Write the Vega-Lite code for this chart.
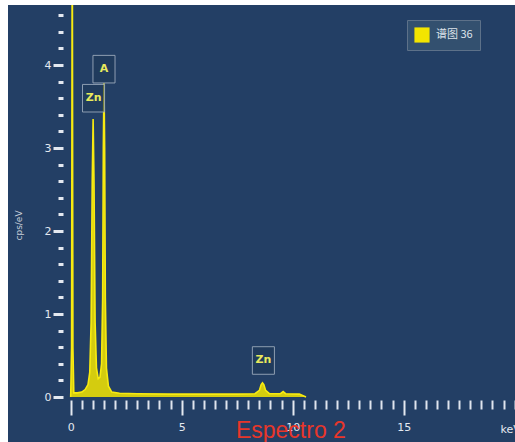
{
  "$schema": "https://vega.github.io/schema/vega-lite/v6.json",
  "width": 507,
  "height": 437,
  "autosize": "none",
  "padding": {"left": 8, "top": 5, "right": 0, "bottom": 0},
  "background": "#ffffff",
  "config": {
    "view": {"fill": "#233f65", "stroke": null},
    "axis": {"grid": false, "labelFont": "DejaVu Sans", "titleFont": "DejaVu Sans"}
  },
  "datasets": {
    "spectrum": [
      {"e": 0.0, "c": 0.0},
      {"e": 0.04, "c": 0.6},
      {"e": 0.07, "c": 6.0},
      {"e": 0.1, "c": 0.6},
      {"e": 0.14, "c": 0.05},
      {"e": 0.3, "c": 0.05},
      {"e": 0.5, "c": 0.06},
      {"e": 0.65, "c": 0.09},
      {"e": 0.78, "c": 0.15},
      {"e": 0.86, "c": 0.3},
      {"e": 0.92, "c": 0.9},
      {"e": 0.97, "c": 2.6},
      {"e": 1.01, "c": 3.35},
      {"e": 1.05, "c": 2.6},
      {"e": 1.1, "c": 0.9},
      {"e": 1.16, "c": 0.35},
      {"e": 1.24, "c": 0.22},
      {"e": 1.32, "c": 0.24},
      {"e": 1.39, "c": 0.4},
      {"e": 1.44, "c": 1.2},
      {"e": 1.47, "c": 3.0},
      {"e": 1.5, "c": 3.78},
      {"e": 1.53, "c": 3.0},
      {"e": 1.56, "c": 1.2},
      {"e": 1.61, "c": 0.35},
      {"e": 1.7, "c": 0.13},
      {"e": 1.85, "c": 0.06},
      {"e": 2.2, "c": 0.045},
      {"e": 3.0, "c": 0.04},
      {"e": 4.5, "c": 0.035},
      {"e": 6.0, "c": 0.035},
      {"e": 7.5, "c": 0.035},
      {"e": 8.3, "c": 0.04},
      {"e": 8.5, "c": 0.08},
      {"e": 8.58, "c": 0.15},
      {"e": 8.64, "c": 0.17},
      {"e": 8.7, "c": 0.15},
      {"e": 8.78, "c": 0.08},
      {"e": 8.95, "c": 0.04},
      {"e": 9.45, "c": 0.04},
      {"e": 9.57, "c": 0.065},
      {"e": 9.68, "c": 0.04},
      {"e": 10.3, "c": 0.035},
      {"e": 10.6, "c": 0.0}
    ],
    "labels": [
      {"e": 1.5, "c": 3.95, "t": "A"},
      {"e": 1.03, "c": 3.6, "t": "Zn"},
      {"e": 8.68, "c": 0.44, "t": "Zn"}
    ]
  },
  "resolve": {"axis": {"x": "independent", "y": "independent"}},
  "layer": [
    {
      "data": {"name": "spectrum"},
      "mark": {"type": "area", "clip": true, "opacity": 0.85},
      "encoding": {
        "x": {
          "field": "e", "type": "quantitative",
          "scale": {"domain": [-2.824, 20.014], "nice": false, "zero": false},
          "axis": {
            "orient": "bottom", "offset": -42, "domain": false,
            "values": [0, 5, 10, 15],
            "tickSize": 15, "tickWidth": 2, "tickColor": "#e4e9f0",
            "labelColor": "#e4e9f0", "labelFontSize": 11, "labelPadding": 6,
            "labelFlush": false,
            "title": "keV", "titleColor": "#e4e9f0", "titleFontSize": 11, "titleFontWeight": "normal",
            "titleX": 492, "titleY": 29, "titleAlign": "left", "titleBaseline": "middle", "titleAnchor": "start"
          }
        },
        "y": {
          "field": "c", "type": "quantitative",
          "scale": {"domain": [-0.542, 4.723], "nice": false, "zero": false},
          "axis": {
            "orient": "left", "offset": -55, "domain": false,
            "values": [0, 1, 2, 3, 4],
            "tickSize": 10, "tickWidth": 3, "tickColor": "#e4e9f0",
            "labelColor": "#e4e9f0", "labelFontSize": 11, "labelPadding": 2,
            "labelFlush": false,
            "title": "cps/eV", "titleColor": "#c9d0da", "titleFontSize": 9, "titleFontWeight": "normal",
            "titleX": -45, "titleY": 220, "titleAngle": -90, "titleAlign": "center", "titleBaseline": "middle", "titleAnchor": "middle"
          }
        },
        "color": {
          "datum": "谱图 36",
          "type": "nominal",
          "scale": {"range": ["#f3e500"]},
          "legend": {
            "orient": "none", "legendX": 399, "legendY": 15,
            "title": null, "fillColor": "#33506f", "strokeColor": "#5d7189",
            "padding": 7, "symbolType": "square", "symbolSize": 230,
            "symbolStrokeWidth": 0, "symbolOpacity": 1,
            "labelColor": "#dde3ea", "labelFont": "Noto Sans CJK SC", "labelFontSize": 11,
            "labelOffset": 6,
            "labelExpr": "datum.label + '\u3000\u3000\u3000'"
          }
        }
      }
    },
    {
      "data": {"name": "spectrum"},
      "mark": {"type": "line", "clip": true, "color": "#f7ea10", "strokeWidth": 1.6},
      "encoding": {
        "x": {
          "field": "e", "type": "quantitative",
          "scale": {"domain": [-2.824, 20.014], "nice": false, "zero": false},
          "axis": {
            "orient": "bottom", "offset": -42, "domain": false, "labels": false, "title": null,
            "values": [0.5, 1, 1.5, 2, 2.5, 3, 3.5, 4, 4.5, 5.5, 6, 6.5, 7, 7.5, 8, 8.5, 9, 9.5, 10.5, 11, 11.5, 12, 12.5, 13, 13.5, 14, 14.5, 15.5, 16, 16.5, 17, 17.5, 18, 18.5, 19, 19.5, 20],
            "tickSize": 9, "tickWidth": 2, "tickColor": "#dfe5ee"
          }
        },
        "y": {
          "field": "c", "type": "quantitative",
          "scale": {"domain": [-0.542, 4.723], "nice": false, "zero": false},
          "axis": {
            "orient": "left", "offset": -55, "domain": false, "labels": false, "title": null,
            "values": [0.2, 0.4, 0.6, 0.8, 1.2, 1.4, 1.6, 1.8, 2.2, 2.4, 2.6, 2.8, 3.2, 3.4, 3.6, 3.8, 4.2, 4.4, 4.6],
            "tickSize": 5, "tickWidth": 3, "tickColor": "#e4e9f0"
          }
        }
      }
    },
    {
      "data": {"name": "labels"},
      "mark": {
        "type": "point", "filled": true, "fill": "#1e3858", "fillOpacity": 0.6,
        "stroke": "#9aa8ba", "strokeWidth": 1, "strokeOpacity": 0.9,
        "shape": "M-0.8,-1L0.8,-1L0.8,1L-0.8,1Z", "size": 760
      },
      "encoding": {
        "x": {"field": "e", "type": "quantitative", "axis": null},
        "y": {"field": "c", "type": "quantitative", "axis": null}
      }
    },
    {
      "data": {"name": "labels"},
      "mark": {"type": "text", "color": "#e8ea5c", "fontSize": 11, "fontWeight": "bold", "font": "DejaVu Sans", "baseline": "middle", "align": "center"},
      "encoding": {
        "x": {"field": "e", "type": "quantitative", "axis": null},
        "y": {"field": "c", "type": "quantitative", "axis": null},
        "text": {"field": "t"}
      }
    },
    {
      "data": {"values": [{"t": "Espectro 2"}]},
      "mark": {"type": "text", "color": "#e8362a", "fontSize": 23, "font": "Liberation Sans", "baseline": "middle", "align": "center"},
      "encoding": {
        "x": {"datum": 9.92, "type": "quantitative", "axis": null},
        "y": {"datum": -0.41, "type": "quantitative", "axis": null},
        "text": {"field": "t"}
      }
    }
  ]
}
